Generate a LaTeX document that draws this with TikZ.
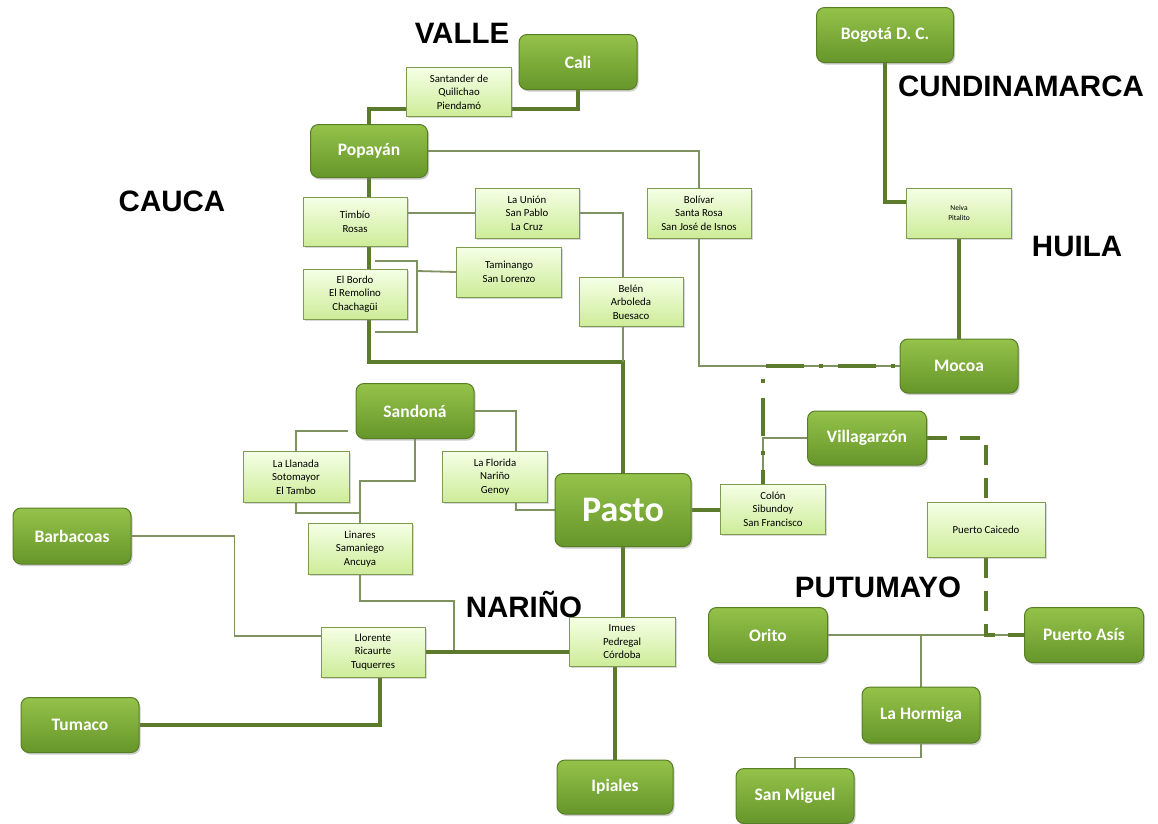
\documentclass[tikz,border=0pt]{standalone}
\usepackage{fontspec}
\setmainfont{Carlito}
\newfontfamily\regionfont{Liberation Sans}
\usetikzlibrary{shadows,backgrounds,calc}

\definecolor{citytop}{HTML}{94C24A}
\definecolor{citybot}{HTML}{66962A}
\definecolor{cityborder}{HTML}{587E25}
\definecolor{towntop}{HTML}{F5FFE6}
\definecolor{townbot}{HTML}{CDEC98}
\definecolor{townborder}{HTML}{7F9B50}
\definecolor{lnthick}{HTML}{5C7A2C}
\definecolor{lnthin}{HTML}{7F9262}

\tikzset{
  city/.style={rounded corners=8pt, draw=cityborder, line width=1pt,
    top color=citytop, bottom color=citybot,
    drop shadow={opacity=0.4, shadow xshift=1.5pt, shadow yshift=-2pt},
    text=white, font=\bfseries\fontsize{17.5}{20}\selectfont,
    minimum width=118pt, minimum height=55pt, inner sep=0pt},
  towns/.style={draw=townborder, line width=1pt,
    top color=towntop, bottom color=townbot,
    drop shadow={opacity=0.3, shadow xshift=1.5pt, shadow yshift=-1.5pt},
    font=\fontsize{10.8}{13.5}\selectfont, align=center,
    minimum width=104pt, minimum height=50pt, inner sep=0pt},
  region/.style={font=\regionfont\bfseries\fontsize{29.5}{32}\selectfont, inner sep=0pt},
  thickln/.style={draw=lnthick, line width=4pt},
  thinln/.style={draw=lnthin, line width=1.8pt},
  dotdashln/.style={draw=lnthick, line width=4pt,
    dash pattern=on 4pt off 15pt on 38pt off 15pt, dash phase=67pt},
  dashln/.style={draw=lnthick, line width=4pt, dash pattern=on 20pt off 13pt},
}

\begin{document}
\begin{tikzpicture}[x=1pt, y=-1pt]
\useasboundingbox (0,0) rectangle (1158,823);

% region names
\node[region] (valle) at (462,33) {VALLE};
\node[region] (cauca) at (172,201) {CAUCA};
\node[region] (cundinamarca) at (1021,86) {CUNDINAMARCA};
\node[region] (huila) at (1077,246) {HUILA};
\node[region] (narino) at (524,604) {NARIÑO};
\node[region] (putumayo) at (878,587) {PUTUMAYO};

% main towns
\node[city] (cali) at (578,62) {Cali};
\node[city, minimum width=117pt, minimum height=53pt] (popayan) at (369,151) {Popayán};
\node[city, minimum width=137pt] (bogota) at (885,35) {Bogotá D. C.};
\node[city, minimum height=54pt] (mocoa) at (959,366) {Mocoa};
\node[city] (sandona) at (415,411) {Sandoná};
\node[city, minimum width=136pt, minimum height=73pt,
      font=\bfseries\fontsize{36}{40}\selectfont] (pasto) at (623,510) {Pasto};
\node[city, minimum width=119pt, minimum height=54pt] (villagarzon) at (867,438) {Villagarzón};
\node[city, minimum height=56pt] (barbacoas) at (72,536) {Barbacoas};
\node[city] (tumaco) at (80,725) {Tumaco};
\node[city, minimum width=116pt, minimum height=54pt] (ipiales) at (615,787) {Ipiales};
\node[city, minimum width=119pt] (orito) at (768,635) {Orito};
\node[city, minimum width=119pt] (puertoasis) at (1084,635) {Puerto Asís};
\node[city, minimum height=56pt] (lahormiga) at (921,715) {La Hormiga};
\node[city] (sanmiguel) at (795,796) {San Miguel};

% intermediate towns
\node[towns, minimum width=105pt, minimum height=49pt] (santander) at (459,92) {Santander de\\Quilichao\\Piendamó};
\node[towns, minimum height=49pt] (timbio) at (355,222) {Timbío\\Rosas};
\node[towns] (launion) at (527,213) {La Unión\\San Pablo\\La Cruz};
\node[towns, minimum width=105pt] (taminango) at (509,272) {Taminango\\San Lorenzo};
\node[towns] (elbordo) at (355,294) {El Bordo\\El Remolino\\Chachagüi};
\node[towns, minimum height=49pt] (belen) at (631,302) {Belén\\Arboleda\\Buesaco};
\node[towns] (bolivar) at (699,213) {Bolívar\\Santa Rosa\\San José de Isnos};
\node[towns, minimum width=105pt, font=\fontsize{7.5}{10}\selectfont] (neiva) at (959,213) {Neiva\\Pitalito};
\node[towns, minimum width=106pt, minimum height=51pt] (lallanada) at (296,477) {La Llanada\\Sotomayor\\El Tambo};
\node[towns, minimum width=105pt, minimum height=51pt] (laflorida) at (495,477) {La Florida\\Nariño\\Genoy};
\node[towns, minimum height=51pt] (linares) at (360,549) {Linares\\Samaniego\\Ancuya};
\node[towns, minimum width=105pt] (colon) at (773,509) {Colón\\Sibundoy\\San Francisco};
\node[towns, minimum width=118pt, minimum height=55pt] (caicedo) at (986,530) {Puerto Caicedo};
\node[towns] (llorente) at (373,652) {Llorente\\Ricaurte\\Tuquerres};
\node[towns, minimum width=106pt, minimum height=49pt] (imues) at (622,642) {Imues\\Pedregal\\Córdoba};

% junction points and free ends of the connectors
\coordinate (jn) at (623,362);
\coordinate (jl) at (454,653);
\coordinate (bkTop) at (375,261);
\coordinate (bkBot) at (375,332);
\coordinate (bkTR) at (417,261);
\coordinate (bkBR) at (417,332);
\coordinate (bkMid) at (417,271);
\coordinate (sdLeft) at (348,431);

\begin{pgfonlayer}{background}
  \fill[white] (0,0) rectangle (1158,823);

  % Cauca corridor
  \draw[thickln] (popayan.north) |- ([yshift=-17pt]santander.west);
  \draw[thickln] ([yshift=-17pt]santander.east) -| (cali.south);
  \draw[thickln] (popayan.south) |- (jn) -| (pasto.north);
  \draw[thinln] (popayan.east) -| (bolivar.north);
  \draw[thinln] (launion.west -| timbio.east) -- (launion.west);
  \draw[thinln] (launion.east) -| ([xshift=-8pt]belen.north);
  \draw[thinln] ([xshift=-8pt]belen.south) -- (jn);
  \draw[thinln] (bkTop) -- (bkTR) -- (bkBR) -- (bkBot);
  \draw[thinln] (bkMid) -- (taminango.west);

  % Huila and Putumayo
  \draw[thickln] (bogota.south) |- ([yshift=11pt]neiva.west);
  \draw[thickln] (neiva.south) -- (mocoa.north);
  \draw[thinln] (bolivar.south) |- (mocoa.west);
  \draw[thinln] (villagarzon.west) -| ([xshift=-10pt]colon.north);
  \draw[dotdashln] (mocoa.west) -| ([xshift=-10pt]colon.north);
  \draw[thickln] (pasto.east) -- (pasto.east -| colon.west);
  \draw[thinln] (orito.east) -- (puertoasis.west);
  \draw[dashln] (villagarzon.east) -| (caicedo.north);
  \draw[dashln] (caicedo.south) |- (puertoasis.west);
  \draw[thinln] (lahormiga.north) -- (lahormiga.north |- orito.east);
  \draw[thinln] (lahormiga.south) -- ++(0,14) -| (sanmiguel.north);

  % Nariño
  \draw[thinln] (sandona.east) -| ([xshift=21pt]laflorida.north);
  \draw[thinln] ([xshift=21pt]laflorida.south) |- (pasto.west);
  \draw[thinln] (sdLeft) -| (lallanada.north);
  \draw[thinln] (lallanada.south) |- ($(linares.north)+(0,-10)$);
  \draw[thinln] (sandona.south) -- ++(0,42) -| (linares.north);
  \draw[thinln] (linares.south) -- ++(0,26) -| (jl);
  \draw[thinln] (barbacoas.east) -| ([xshift=-86pt,yshift=16pt]llorente.west) -- ([yshift=16pt]llorente.west);
  \draw[thickln] (llorente.east) -- (llorente.east -| imues.west);
  \draw[thickln] ([xshift=7pt]llorente.south) |- (tumaco.east);
  \draw[thickln] (pasto.south) -- (pasto.south |- imues.north);
  \draw[thickln] (ipiales.north |- imues.south) -- (ipiales.north);
\end{pgfonlayer}
\end{tikzpicture}
\end{document}
